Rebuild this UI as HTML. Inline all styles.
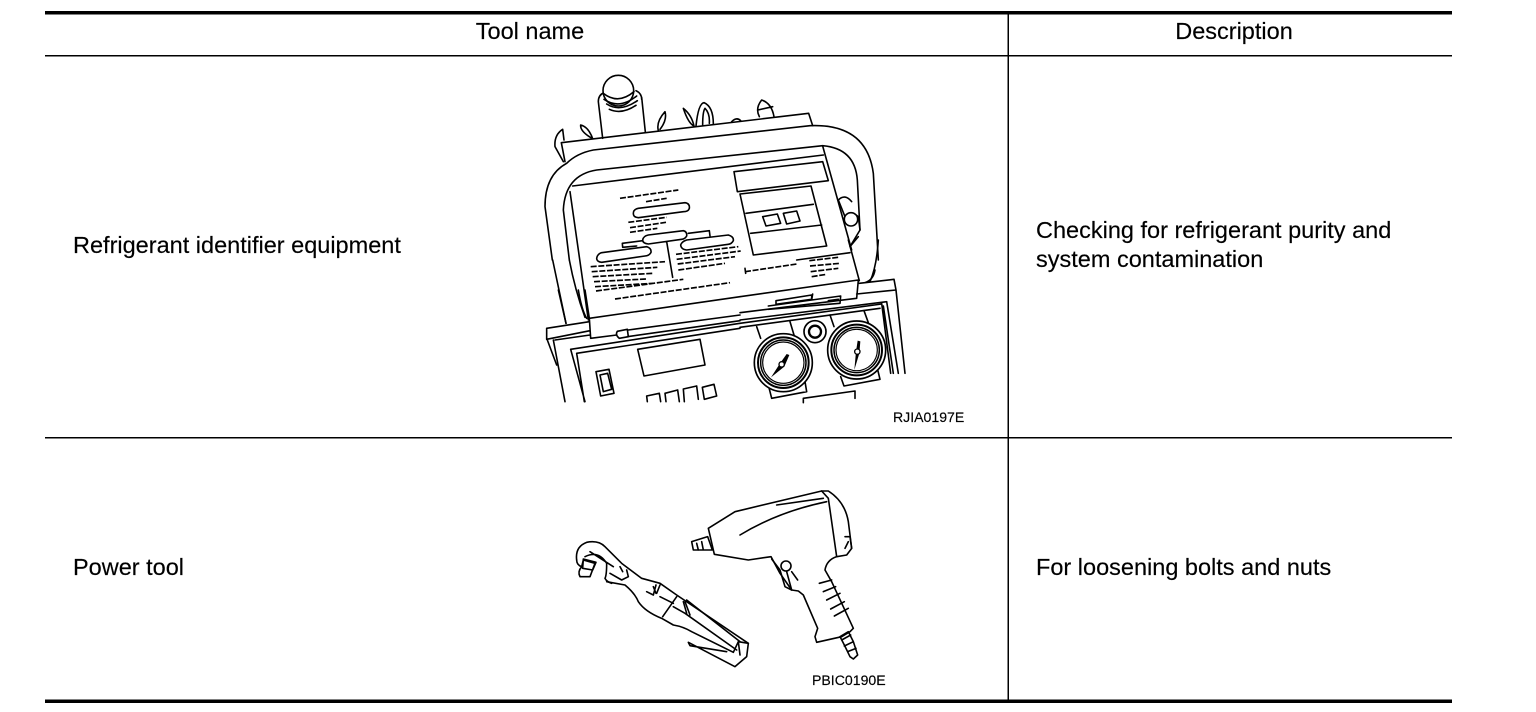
<!DOCTYPE html>
<html><head><meta charset="utf-8"><style>
html,body{margin:0;padding:0;background:#fff;width:1536px;height:712px;overflow:hidden}
svg{display:block}
text{font-family:"Liberation Sans",sans-serif;fill:#000;stroke:#000;stroke-width:.15}
.d{fill:none;stroke:#000;stroke-width:4.8;stroke-linejoin:round;stroke-linecap:round}
.w{fill:#fff;stroke:#000;stroke-width:4.8;stroke-linejoin:round}
.t{fill:none;stroke:#000;stroke-width:5;stroke-dasharray:18 5}
</style></head><body>
<svg width="1536" height="712" viewBox="0 0 1536 712" xmlns="http://www.w3.org/2000/svg">
<rect x="45" y="11" width="1407" height="3.500" fill="#000"/>
<rect x="45" y="55" width="1407" height="1.500" fill="#000"/>
<rect x="45" y="437" width="1407" height="1.500" fill="#000"/>
<rect x="45" y="699.500" width="1407" height="3.500" fill="#000"/>
<rect x="1007.500" y="14" width="1.500" height="686" fill="#000"/>
<g font-size="23.500">
<text x="530" y="39" text-anchor="middle">Tool name</text>
<text x="1234" y="39" text-anchor="middle">Description</text>
<text x="73" y="253">Refrigerant identifier equipment</text>
<text x="1036" y="238">Checking for refrigerant purity and</text>
<text x="1036" y="267">system contamination</text>
<text x="73" y="575">Power tool</text>
<text x="1036" y="575">For loosening bolts and nuts</text>
</g>
<text x="893" y="422" font-size="14.100">RJIA0197E</text>
<text x="812" y="685" font-size="14.100">PBIC0190E</text>

<g transform="translate(530,60) scale(.33333)">
<path class="d" d="M218 235L205 125Q205 105 222 98M335 112L346 216M318 92Q335 100 335 118"/>
<circle class="w" cx="265" cy="92" r="46"/>
<path class="d" d="M220 100Q265 135 312 95M222 118Q268 150 320 108M230 132Q270 158 322 122M238 148Q275 165 318 136"/>
<path class="d" d="M100 305L75 260Q72 225 98 208L102 240M188 236Q150 215 152 195Q175 200 188 236M385 212Q378 185 405 155Q412 180 390 208M492 198Q485 165 460 145Q475 190 492 198M498 198Q505 130 522 128Q550 140 550 192M518 195Q518 155 525 145Q540 160 538 190M605 185Q620 170 632 182M688 170Q675 145 695 120Q725 130 732 170M684 150L728 140"/>
<path class="d" d="M105 305L94 248L836 160L848 197"/>
<path class="d" d="M67 600L45 440Q45 345 110 310Q140 280 190 270L840 197Q1010 190 1030 340L1045 600"/>
<path class="d" d="M118 600L100 450Q105 345 200 330L878 257Q975 265 982 360L990 510"/>
<path class="d" d="M128 378L880 285M120 395L175 780M878 258L965 570"/>
<path class="d" d="M612 335L878 305L895 362L622 395ZM630 402L843 378L890 558L670 585ZM648 460L850 433M662 520L875 495"/>
<path class="d" d="M698 470L742 462L752 490L708 498ZM760 460L800 453L810 483L770 492Z"/>
<path class="d" d="M925 420Q945 400 965 425M925 420L945 470M945 470Q960 450 985 470L990 510L960 560L985 530"/>
<circle class="w" cx="963" cy="478" r="20"/>
</g>

<g transform="translate(530,240) scale(.33333)">
<path class="d" d="M68 60L108 250M118 60Q135 150 165 232M955 0L988 122M1045 0Q1040 80 1020 125"/>
<path class="t" d="M645 95L800 72M838 62L925 52M840 78L930 70M842 95L925 85M845 110L890 103"/>
<path class="d" d="M645 85L647 100"/>
<path class="d" d="M800 60L960 38"/>
</g>

<g transform="translate(570,190) scale(.33333)">
<path class="d" d="M190 70Q190 58 205 55L345 38Q360 40 358 55Q355 65 340 65L205 83Q190 82 190 70ZM218 150Q220 138 235 135L340 122Q352 125 350 138Q345 147 335 148L235 162Q218 160 218 150ZM332 165Q335 155 350 150L475 135Q492 140 490 152Q485 162 475 163L350 180Q333 178 332 165ZM80 205Q82 192 95 188L230 170Q245 175 243 187Q238 197 225 198L95 217Q80 215 80 205ZM158 172L157 160L218 152M158 172L200 168M355 130L418 122L420 138M290 155L308 262"/>
<path class="t" d="M150 25L325 0M228 35L290 25M175 97L290 82M180 113L288 97M180 127L262 115M62 230L285 215M65 245L262 232M68 260L248 250M72 275L228 267M75 290L250 280M78 303L340 268M135 327L480 278M318 193L505 170M320 208L512 183M323 222L495 200M325 240L465 220"/>
</g>

<g transform="translate(540,290) scale(.33333)">
<path class="d" d="M55 0L78 100M115 0Q125 60 140 85M135 0L148 85M148 85L600 20M148 85L152 145L230 135M20 115L148 95M20 115L20 148L150 122M45 150L150 135M40 150L75 335M22 150L50 225M262 140L600 92M265 120L600 75M92 178L600 100M110 190L600 115M92 178L135 335M110 190L133 335"/>
<path class="d" d="M232 124L262 118L265 140L238 145Q225 135 232 124Z"/>
<path class="d" d="M293 178L480 148L495 225L312 258Z"/>
<path class="d" d="M168 245L207 238L222 310L182 318ZM180 255L203 250L215 298L190 305Z"/>
<path class="d" d="M322 335L320 318L358 310L362 335M378 335L375 310L413 300L418 335M433 335L430 297L470 288L475 328M487 292L522 283L530 318L493 328Z"/>
</g>

<g transform="translate(740,270) scale(.33333)">
<path class="d" d="M355 30L350 85M0 128L350 85M0 80L355 30M405 0Q400 30 375 38M358 40L462 28L468 60L350 72M468 60L495 310M440 95L475 310M425 100L452 310M430 108L460 310M0 150L440 95M0 160L425 102M0 172L420 115"/>
<path class="d" d="M85 108L302 78L300 100L85 118M108 92L215 75L215 88L108 103ZM218 72L215 90M265 92L295 88"/>
<path class="d" d="M50 170L62 205M150 155L165 205M85 345L95 385L200 365L195 335M302 320L312 348L420 328L412 295M190 385L345 363L345 385M190 385L190 398M270 135L282 170M372 122L385 158"/>
<circle cx="225" cy="185" r="33" fill="none" stroke="#000" stroke-width="5"/>
<circle cx="225" cy="185" r="18" fill="none" stroke="#000" stroke-width="7"/>
<g fill="#fff" stroke="#000" stroke-width="5">
<circle cx="130" cy="278" r="87"/><circle cx="350" cy="240" r="87"/>
</g>
<g fill="none" stroke="#000">
<circle cx="130" cy="278" r="76" stroke-width="6"/><circle cx="130" cy="278" r="68" stroke-width="4.500"/><circle cx="130" cy="278" r="62" stroke-width="3.500"/>
<circle cx="350" cy="240" r="76" stroke-width="6"/><circle cx="350" cy="240" r="68" stroke-width="4.500"/><circle cx="350" cy="240" r="62" stroke-width="3.500"/>
</g>
<path d="M93 322L120 280L140 252L148 255L133 290Z" fill="#000"/>
<path d="M343 300L348 245L353 212L361 214L358 250Z" fill="#000"/>
<circle cx="125" cy="283" r="8" fill="#fff" stroke="#000" stroke-width="4"/>
<circle cx="352" cy="245" r="8" fill="#fff" stroke="#000" stroke-width="4"/>
</g>

<g transform="translate(570,535) scale(.33333)">
<path class="d" d="M20 75Q15 35 50 22Q85 15 105 35L155 85L215 130L270 145L320 180L535 325L530 365L495 395L355 322L360 332L470 350"/>
<path class="d" d="M20 75Q20 90 35 95M110 140L165 150Q195 175 205 200Q225 230 275 250L310 270Q340 275 365 290L490 352M505 320L535 325M490 352L505 320L510 360"/>
<path class="d" d="M40 75L75 85L60 125L30 125Q22 110 35 95ZM40 72L78 82L68 105L38 100Z"/>
<path class="d" d="M45 65Q85 45 110 85Q110 120 105 130Q110 140 125 145M60 50L130 95M120 115L155 135L175 125M150 95L158 110M170 105L175 125M230 170L250 180L258 150M250 155L258 175M270 150L260 175M270 185L310 205M320 185L278 245M340 200L350 235M345 200L360 240M310 215L345 235L500 345M350 195L510 320"/>
</g>

<g transform="translate(685,485) scale(.33333)">
<path class="d" d="M70 130L150 80L410 18L430 18Q480 50 490 110L500 190L485 210L455 215Q425 225 420 255L440 290L505 430L495 440L470 455L395 472L390 455L398 430L355 330L340 318L320 315L285 265L258 215L190 225L88 208L70 130Z"/>
<path class="d" d="M165 150Q280 80 425 50M275 60L415 40M410 18L430 40L455 215M480 155L495 155L500 190M490 170L480 190"/>
<path class="d" d="M20 170L68 155L82 195L25 195ZM35 175L40 195M50 170L55 195"/>
<path class="d" d="M260 222L285 255L300 305L320 315L305 260M320 260L338 285"/>
<circle class="w" cx="303" cy="243" r="15"/>
<path class="d" d="M403 295L440 285M415 320L452 305M425 345L465 325M437 372L478 350M448 393L490 370"/>
<path class="d" d="M465 455L490 440L505 470L518 510L505 522L495 515L478 480ZM470 465L497 450M478 483L505 470M488 500L513 490"/>
</g>
</svg>
</body></html>
